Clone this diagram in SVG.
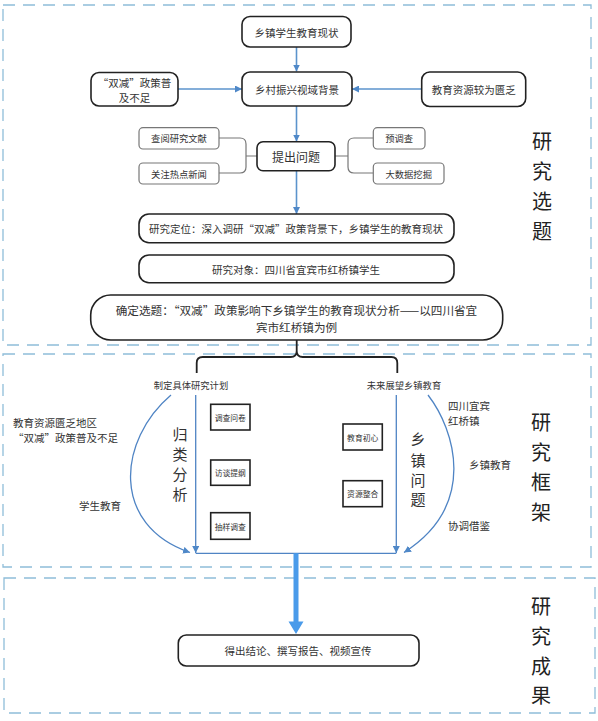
<svg xmlns="http://www.w3.org/2000/svg" width="598" height="721" viewBox="0 0 598 721">
<defs>
<style>
text{font-family:"Noto Sans CJK SC","Noto Sans",sans-serif;fill:#333;dominant-baseline:central;text-anchor:middle}
.sec{fill:none;stroke:#8fbdd9;stroke-width:1.3;stroke-dasharray:12 8}
.bx{fill:#fff;stroke:#222;stroke-width:1.6}
.gb{fill:#fff;stroke:#777;stroke-width:1.2}
.sq{fill:#fff;stroke:#222;stroke-width:1.6}
.ln{fill:none;stroke:#5b93cc;stroke-width:1.6}
.bl{fill:none;stroke:#4f84c4;stroke-width:1.3}
.gl{fill:none;stroke:#777;stroke-width:1.2}
.br{fill:none;stroke:#222;stroke-width:1.8}
.t{font-size:10.5px}
.s{font-size:9.3px}
.xs{font-size:7.8px}
.big{font-size:20px;fill:#222}
.mid{font-size:15px;fill:#333}
</style>
<marker id="ah" viewBox="0 0 10 10" refX="10" refY="5" markerWidth="7" markerHeight="7" markerUnits="userSpaceOnUse" orient="auto">
<path d="M0 0L10 5L0 10z" fill="#4f88c8"/>
</marker>
</defs>

<g id="sections">
<rect class="sec" x="3" y="5" width="588" height="340"/>
<rect class="sec" x="3" y="354" width="588" height="213"/>
<rect class="sec" x="4" y="578" width="591" height="135"/>
<text class="big" x="542" y="140">研</text>
<text class="big" x="542" y="170">究</text>
<text class="big" x="542" y="200">选</text>
<text class="big" x="542" y="230">题</text>
<text class="big" x="541" y="421">研</text>
<text class="big" x="541" y="451">究</text>
<text class="big" x="541" y="481">框</text>
<text class="big" x="541" y="511">架</text>
<text class="big" x="541" y="605">研</text>
<text class="big" x="541" y="635">究</text>
<text class="big" x="541" y="665">成</text>
<text class="big" x="541" y="694">果</text>
</g>

<g id="connectors">
<line class="ln" x1="296.5" y1="47" x2="296.5" y2="71.5" marker-end="url(#ah)"/>
<line class="ln" x1="178" y1="89" x2="242" y2="89" marker-end="url(#ah)"/>
<line class="ln" x1="421.7" y1="89" x2="352" y2="89" marker-end="url(#ah)"/>
<line class="ln" x1="296.5" y1="106" x2="296.5" y2="141.5" marker-end="url(#ah)"/>
<line class="ln" x1="296.5" y1="170.7" x2="296.5" y2="214" marker-end="url(#ah)"/>
<path class="gl" d="M219 138H240Q246 138 246 144V167Q246 173 240 173H219M246 156H257"/>
<path class="gl" d="M335 156H348M373 138H354Q348 138 348 144V167Q348 173 354 173H373"/>
<path class="br" d="M296.7 340V351Q296.7 357 290.7 357H202.7Q196.7 357 196.7 363V373M296.7 351Q296.7 357 302.7 357H391.3Q397.3 357 397.3 363V373"/>
<path class="bl" d="M171 395C118 440 110 525 190 552.5" marker-end="url(#ah)"/>
<path class="bl" d="M428 395C455 430 478 505 404 552.5" marker-end="url(#ah)"/>
<line class="bl" x1="195.7" y1="395" x2="195.7" y2="553" marker-end="url(#ah)"/>
<line class="bl" x1="396.3" y1="395" x2="396.3" y2="553" marker-end="url(#ah)"/>
<line class="bl" x1="195.7" y1="553.3" x2="396.3" y2="553.3"/>
<polygon points="293.5,553.3 298.5,553.3 298.5,621.5 303.5,621.5 296,634 288.5,621.5 293.5,621.5" fill="#4a9bea"/>
</g>

<g id="n-xianzhuang"><rect class="bx" x="242" y="16.5" width="109" height="30.5" rx="8"/><text class="t" x="296.5" y="32">乡镇学生教育现状</text></g>
<g id="n-beijing"><rect class="bx" x="242" y="72" width="110" height="34" rx="8"/><text class="t" x="297" y="89">乡村振兴视域背景</text></g>
<g id="n-shuangjian"><rect class="bx" x="91" y="72.5" width="87" height="33.5" rx="8"/><text class="t" x="134.5" y="82">“双减”政策普</text><text class="t" x="134.5" y="97">及不足</text></g>
<g id="n-ziyuan"><rect class="bx" x="421.7" y="72" width="104" height="34.5" rx="8"/><text class="t" x="473.7" y="89">教育资源较为匮乏</text></g>
<g id="n-tichu"><rect class="bx" x="257" y="141.7" width="78" height="29" rx="6"/><text x="296" y="156" style="font-size:12px">提出问题</text></g>
<g id="n-chayue"><rect class="gb" x="139" y="127.7" width="80" height="21.3" rx="4"/><text class="s" x="179" y="138.3">查阅研究文献</text></g>
<g id="n-guanzhu"><rect class="gb" x="139" y="163" width="80" height="21" rx="4"/><text class="s" x="179" y="173.5">关注热点新闻</text></g>
<g id="n-yudiaocha"><rect class="gb" x="373.3" y="127.7" width="51.7" height="21.3" rx="4"/><text class="s" x="399.2" y="138.3">预调查</text></g>
<g id="n-dashuju"><rect class="gb" x="373.3" y="163" width="70.7" height="21" rx="4"/><text class="s" x="408.7" y="173.5">大数据挖掘</text></g>
<g id="n-dingwei"><rect class="bx" x="139" y="214" width="315" height="28.7" rx="10"/><text class="t" x="296" y="228.3">研究定位：深入调研“双减”政策背景下，乡镇学生的教育现状</text></g>
<g id="n-duixiang"><rect class="bx" x="139" y="255" width="315" height="27.7" rx="10"/><text class="t" x="296" y="269.3">研究对象：四川省宜宾市红桥镇学生</text></g>
<g id="n-xuanti"><rect class="bx" x="90.7" y="295" width="412" height="45" rx="20"/><text x="296.5" y="310" style="font-size:11.6px">确定选题：“双减”政策影响下乡镇学生的教育现状分析——以四川省宜</text><text x="296.5" y="326.7" style="font-size:11.6px">宾市红桥镇为例</text></g>

<g id="n-jihua"><text class="s" x="191" y="385">制定具体研究计划</text></g>
<g id="n-zhanwang"><text class="s" x="404" y="385">未来展望乡镇教育</text></g>
<g id="l-left"><text class="t" x="13" y="422.7" style="text-anchor:start">教育资源匮乏地区</text><text class="t" x="13" y="437.7" style="text-anchor:start">“双减”政策普及不足</text><text class="t" x="100" y="505">学生教育</text></g>
<g id="l-guilei"><text class="mid" x="180" y="433.3">归</text><text class="mid" x="180" y="453.3">类</text><text class="mid" x="180" y="473.5">分</text><text class="mid" x="180" y="493.3">析</text></g>
<g id="n-wenjuan"><rect class="sq" x="210.7" y="404.3" width="39.3" height="25.7"/><text class="xs" x="230.3" y="417.2">调查问卷</text></g>
<g id="n-fangtan"><rect class="sq" x="210.7" y="460" width="39.3" height="25.3"/><text class="xs" x="230.3" y="472.7">访谈提纲</text></g>
<g id="n-chouyang"><rect class="sq" x="210.7" y="512.7" width="39.3" height="26.6"/><text class="xs" x="230.3" y="526">抽样调查</text></g>
<g id="n-chuxin"><rect class="sq" x="343" y="424" width="39.3" height="26"/><text class="xs" x="362.7" y="437">教育初心</text></g>
<g id="n-zhenghe"><rect class="sq" x="343" y="480.7" width="39.3" height="26"/><text class="xs" x="362.7" y="493.7">资源整合</text></g>
<g id="l-xiangzhen"><text class="mid" x="418" y="438.3">乡</text><text class="mid" x="418" y="459">镇</text><text class="mid" x="418" y="479">问</text><text class="mid" x="418" y="498.3">题</text></g>
<g id="l-right"><text class="t" x="448" y="405" style="text-anchor:start">四川宜宾</text><text class="t" x="448" y="420" style="text-anchor:start">红桥镇</text><text class="t" x="490" y="464.3">乡镇教育</text><text class="t" x="448" y="525.7" style="text-anchor:start">协调借鉴</text></g>

<g id="n-jielun"><rect class="bx" x="178.3" y="635" width="240.7" height="31" rx="8"/><text class="t" x="298" y="650.5">得出结论、撰写报告、视频宣传</text></g>
</svg>
